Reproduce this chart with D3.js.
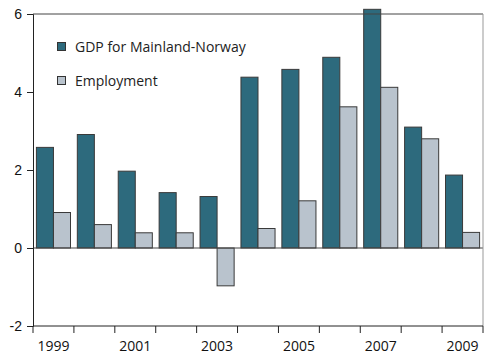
<!DOCTYPE html>
<html>
<head>
<meta charset="utf-8">
<script src="https://cdn.jsdelivr.net/npm/d3@7"></script>
<style>
  html, body { margin: 0; padding: 0; background: #fff; }
  svg { display: block; font-family: "Open Sans", "DejaVu Sans", sans-serif; }
</style>
</head>
<body>
<svg id="chart" width="484" height="354"></svg>
<script>
// Annual change, per cent
const years = ["1999","2000","2001","2002","2003","2004","2005","2006","2007","2008","2009"];
const gdpMainland = [2.58, 2.91, 1.97, 1.42, 1.32, 4.38, 4.58, 4.89, 6.12, 3.10, 1.87];
const employment = [0.91, 0.60, 0.39, 0.39, -0.97, 0.50, 1.21, 3.62, 4.12, 2.80, 0.40];
const seriesNames = ["GDP for Mainland-Norway", "Employment"];
const yTicks = [-2, 0, 2, 4, 6];
const xLabelYears = ["1999","2001","2003","2005","2007","2009"];

const colors = ["#2d6a7d", "#b9c3cd"];
const svg = d3.select("#chart");
const plotLeft = 33, plotRight = 483, plotTop = 14, plotBottom = 326;

const x = d3.scaleBand().domain(years).range([plotLeft, plotRight]).paddingInner(0).paddingOuter(0);
const y = d3.scaleLinear().domain([-2, 6]).range([plotBottom, plotTop]);
const inner = d3.scaleBand().domain([0, 1]).range([0, x.bandwidth()]).paddingInner(0).paddingOuter(0.2);

const rows = years.map((yr, i) => ({ year: yr, values: [gdpMainland[i], employment[i]] }));

// bars
const groups = svg.append("g").selectAll("g").data(rows).join("g")
  .attr("transform", d => `translate(${x(d.year)},0)`);
groups.selectAll("rect").data(d => d.values.map((v, k) => ({ v, k }))).join("rect")
  .attr("x", d => inner(d.k))
  .attr("width", inner.bandwidth())
  .attr("y", d => y(Math.max(0, d.v)))
  .attr("height", d => Math.abs(y(d.v) - y(0)))
  .attr("fill", d => colors[d.k])
  .attr("stroke", "#3a3a3a")
  .attr("stroke-width", 1);

// zero line
svg.append("line")
  .attr("x1", plotLeft).attr("x2", plotRight)
  .attr("y1", y(0)).attr("y2", y(0))
  .attr("stroke", "#444").attr("stroke-width", 1);

// frame top and right
svg.append("line").attr("x1", plotLeft).attr("x2", plotRight).attr("y1", plotTop).attr("y2", plotTop)
  .attr("stroke", "#444").attr("stroke-width", 1);
svg.append("line").attr("x1", plotRight).attr("x2", plotRight).attr("y1", plotTop).attr("y2", plotBottom)
  .attr("stroke", "#999").attr("stroke-width", 1);

// y axis
const yAxis = d3.axisLeft(y).tickValues(yTicks).tickSize(6).tickPadding(5).tickFormat(d3.format("d"));
const gy = svg.append("g").attr("transform", `translate(${plotLeft},0)`).call(yAxis);
gy.select(".domain").attr("stroke", "#222");
gy.selectAll(".tick line").attr("stroke", "#222");
gy.selectAll(".tick text").attr("font-size", 14).attr("fill", "#111")
  .text(d => d < 0 ? "-" + Math.abs(d) : d);

// x axis: ticks at band edges, labels every other year
const gx = svg.append("g").attr("transform", `translate(0,${plotBottom})`);
gx.append("line").attr("x1", plotLeft).attr("x2", plotRight).attr("y1", 0).attr("y2", 0)
  .attr("stroke", "#222");
gx.selectAll("line.tk").data(years.concat(["end"])).join("line")
  .attr("class", "tk")
  .attr("x1", (d, i) => i < years.length ? x(d) : plotRight)
  .attr("x2", (d, i) => i < years.length ? x(d) : plotRight)
  .attr("y1", 0).attr("y2", 7)
  .attr("stroke", "#222");
gx.selectAll("text").data(xLabelYears).join("text")
  .attr("x", d => x(d) + x.bandwidth() / 2)
  .attr("y", 25)
  .attr("text-anchor", "middle")
  .attr("font-size", 14)
  .attr("fill", "#111")
  .text(d => d);

// legend
const legend = svg.append("g").attr("transform", "translate(57,42)");
seriesNames.forEach((name, i) => {
  const g = legend.append("g").attr("transform", `translate(0,${i * 34})`);
  g.append("rect").attr("x", 0.5).attr("y", 0.5).attr("width", 8).attr("height", 8)
    .attr("fill", colors[i]).attr("stroke", "#333").attr("stroke-width", 1);
  g.append("text").attr("x", 18).attr("y", 10).attr("font-size", 14).attr("fill", "#222").text(name);
});
</script>
</body>
</html>
